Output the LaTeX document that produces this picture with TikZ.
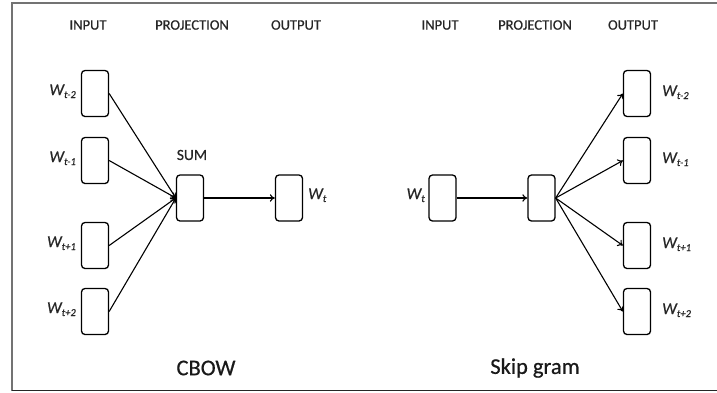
\documentclass[tikz,border=0pt]{standalone}
\usepackage{fontspec}
\setmainfont{Carlito}
\newfontface\hvface{Carlito}[FakeBold=0.6]
\newfontface\hvit{Carlito Italic}[FakeBold=0.6]
\usetikzlibrary{arrows.meta}
\newcommand{\wlab}[1]{\fontsize{16.5}{16.5}\hvit W\raisebox{-3pt}{\fontsize{10.5}{10.5}\hvit #1}}
\tikzset{
  vec/.style={draw, line width=1.3pt, rounded corners=3.5pt, minimum width=27pt, minimum height=46pt, inner sep=0pt},
  hdr/.style={font=\fontsize{14.5}{14.5}\hvface, text=black!85, inner sep=0pt},
  ttl/.style={font=\fontsize{22.5}{22.5}\hvface, text=black!90, inner sep=0pt},
  lab/.style={inner sep=0pt, text=black!85},
  conn/.style={line width=1.1pt, -{To[length=5pt,width=7.5pt]}},
  frameline/.style={line width=1.6pt}
}
\begin{document}
\begin{tikzpicture}[x=1pt,y=-1pt]
\useasboundingbox (0,0) rectangle (717,392);
% frame
\coordinate (f1) at (12,391);
\coordinate (f2) at (12,3);
\coordinate (f3) at (717,3);
\coordinate (f4) at (717,390.5);
\coordinate (f5) at (12,390.5);
\draw[frameline, draw=black!55] (f1) -- (f2) -- (f3);
\draw[frameline, draw=black!85] (f5) -- (f4);
% headers
\node[hdr] (h1) at (88,25) {INPUT};
\node[hdr] (h2) at (192,25) {PROJECTION};
\node[hdr] (h3) at (296,25) {OUTPUT};
\node[hdr] (h4) at (440,25) {INPUT};
\node[hdr] (h5) at (535,25) {PROJECTION};
\node[hdr] (h6) at (633,25) {OUTPUT};
% CBOW
\node[vec] (c1) at (95,93.5) {};
\node[vec] (c2) at (95,160.5) {};
\node[vec] (c3) at (95,245.5) {};
\node[vec] (c4) at (95,311.5) {};
\node[vec] (cs) at (190,198) {};
\node[vec] (co) at (289,198) {};
\node[lab, anchor=base east] (lc1) at (76,95) {\wlab{t-2}};
\node[lab, anchor=base east] (lc2) at (76,162) {\wlab{t-1}};
\node[lab, anchor=base east] (lc3) at (76,247) {\wlab{t+1}};
\node[lab, anchor=base east] (lc4) at (76,313) {\wlab{t+2}};
\node[lab, anchor=base west] (lco) at (308,199) {\wlab{t}};
\node[hdr, font=\fontsize{15.5}{15.5}\hvface] (sum) at (192,155) {SUM};
\foreach \n in {c1,c2,c3,c4} \draw[conn] (\n.east) -- (cs.west);
\draw[conn] (cs.east) -- (co.west);
\node[ttl] (t1) at (206,368) {CBOW};
% Skip gram
\node[vec] (si) at (442.5,198) {};
\node[vec] (sp) at (541.5,198) {};
\node[vec] (s1) at (637,93.5) {};
\node[vec] (s2) at (637,160.5) {};
\node[vec] (s3) at (637,245.5) {};
\node[vec] (s4) at (637,311.5) {};
\node[lab, anchor=base east] (lsi) at (425,199) {\wlab{t}};
\node[lab, anchor=base west] (ls1) at (662,96) {\wlab{t-2}};
\node[lab, anchor=base west] (ls2) at (662,163) {\wlab{t-1}};
\node[lab, anchor=base west] (ls3) at (662,248) {\wlab{t+1}};
\node[lab, anchor=base west] (ls4) at (662,314) {\wlab{t+2}};
\draw[conn] (si.east) -- (sp.west);
\foreach \n in {s1,s2,s3,s4} \draw[conn] (sp.east) -- (\n.west);
\node[ttl] (t2) at (535,368) {Skip gram};
\end{tikzpicture}
\end{document}
